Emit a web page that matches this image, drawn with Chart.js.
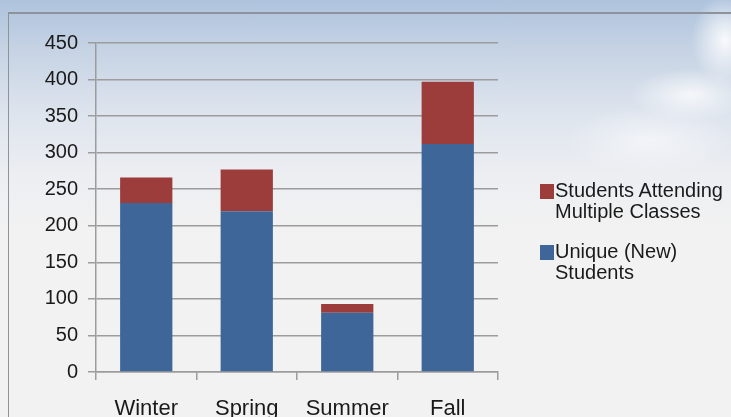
<!DOCTYPE html>
<html>
<head>
<meta charset="utf-8">
<script src="https://cdn.jsdelivr.net/npm/chart.js@4"></script>
<style>
  html, body { margin: 0; padding: 0; }
  #wrap {
    position: relative;
    width: 731px;
    height: 417px;
    overflow: hidden;
    background:
      radial-gradient(ellipse 45px 60px at 725px 40px, rgba(255,255,255,0.9), rgba(255,255,255,0) 75%),
      radial-gradient(ellipse 80px 35px at 690px 95px, rgba(255,255,255,0.75), rgba(255,255,255,0) 75%),
      radial-gradient(ellipse 110px 45px at 650px 140px, rgba(250,251,253,0.6), rgba(255,255,255,0) 75%),
      linear-gradient(to bottom, #aec3dd 0%, #c6d3e4 12%, #dfe5ee 28%, #ecEEF2 42%, #f2f2f2 55%, #f2f2f2 100%);
  }
  #frame {
    position: absolute;
    left: 8px; top: 12px; right: -2px; bottom: -2px;
    border-left: 1px solid #8e939a;
    border-top: 2px solid #8e939a;
  }
  #myChart { position: absolute; left: 0; top: 0; }
  #legend {
    position: absolute;
    left: 540px;
    top: 180px;
    font-family: "Liberation Sans", Arial, sans-serif;
    font-size: 20px;
    line-height: 21px;
    color: #1a1a1a;
  }
  .item { position: relative; padding-left: 15px; margin-bottom: 19px; }
  .box { position: absolute; left: 0; top: 4px; width: 14px; height: 15px; }
</style>
</head>
<body>
<div id="wrap">
  <div id="frame"></div>
  <canvas id="myChart" width="731" height="417"></canvas>
  <div id="legend"></div>
</div>
<script>
const seasons = ['Winter', 'Spring', 'Summer', 'Fall'];
const uniqueStudents = [231, 220, 81, 312];
const multipleClasses = [35, 57, 12, 85];
const seriesNames = ['Unique (New) Students', 'Students Attending Multiple Classes'];
const seriesWrapped = [['Unique (New)', 'Students'], ['Students Attending', 'Multiple Classes']];
const seriesColors = ['#3e6699', '#9c3d3c'];

const gridColor = '#9c9c9c';

const chart = new Chart(document.getElementById('myChart'), {
    type: 'bar',
    data: {
        labels: seasons,
        datasets: [{
            label: seriesNames[0],
            data: uniqueStudents,
            backgroundColor: seriesColors[0]
        }, {
            label: seriesNames[1],
            data: multipleClasses,
            backgroundColor: seriesColors[1]
        }]
    },
    options: {
        responsive: false,
        animation: false,
        events: [],
        layout: {
            padding: { top: 43, right: 233, left: 0, bottom: 0 }
        },
        datasets: {
            bar: { categoryPercentage: 1, barPercentage: 0.52 }
        },
        plugins: {
            legend: { display: false },
            tooltip: { enabled: false }
        },
        scales: {
            x: {
                stacked: true,
                grid: {
                    offset: true,
                    drawOnChartArea: false,
                    tickLength: 8,
                    color: gridColor,
                    lineWidth: 1.5
                },
                border: { color: gridColor, width: 1.5 },
                ticks: {
                    color: '#1a1a1a',
                    padding: 16,
                    maxRotation: 0,
                    font: { family: 'Liberation Sans', size: 22 }
                },
                afterFit(scale) { scale.height = 45; }
            },
            y: {
                stacked: true,
                min: 0,
                max: 450,
                ticks: {
                    stepSize: 50,
                    color: '#1a1a1a',
                    padding: 10,
                    font: { family: 'Liberation Sans', size: 20 }
                },
                grid: {
                    color: gridColor,
                    lineWidth: 1.5,
                    tickLength: 8
                },
                border: { color: gridColor, width: 1.5 },
                afterFit(scale) { scale.width = 96; }
            }
        }
    }
});

// legend drawn as html so labels can wrap like the original (top series first)
const legend = document.getElementById('legend');
chart.data.datasets.slice().reverse().forEach(ds => {
    const i = chart.data.datasets.indexOf(ds);
    const item = document.createElement('div');
    item.className = 'item';
    const box = document.createElement('span');
    box.className = 'box';
    box.style.background = ds.backgroundColor;
    item.appendChild(box);
    item.insertAdjacentHTML('beforeend', seriesWrapped[i].join('<br>'));
    legend.appendChild(item);
});
</script>
</body>
</html>
